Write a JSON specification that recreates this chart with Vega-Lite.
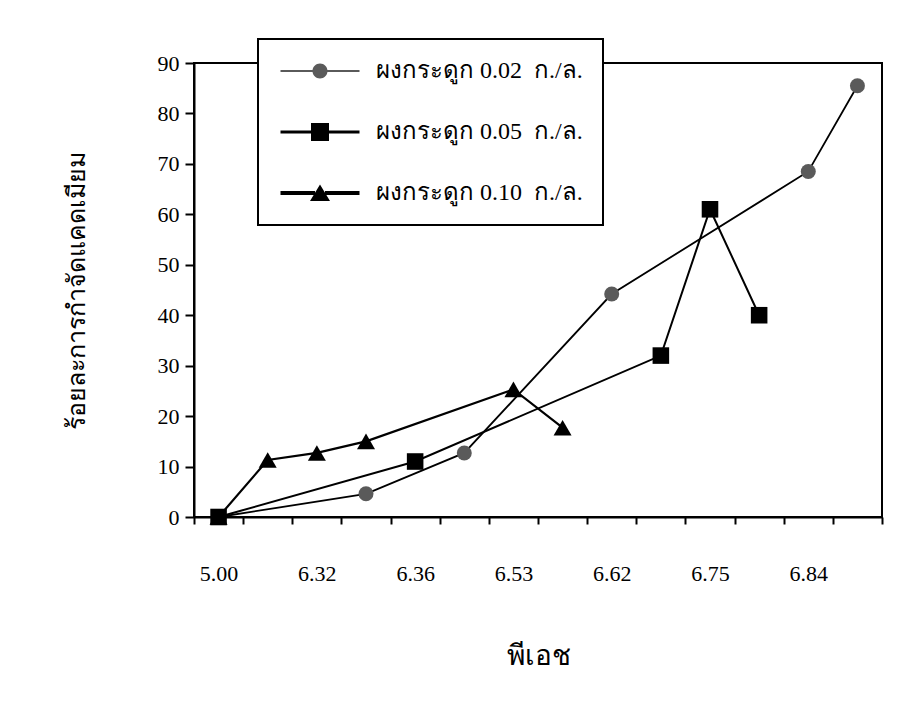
{
  "$schema": "https://vega.github.io/schema/vega-lite/v6.json",
  "width": 688,
  "height": 454,
  "autosize": {"type": "none"},
  "padding": {"left": 194, "top": 63, "right": 32, "bottom": 185},
  "background": "white",
  "config": {
    "view": {"stroke": "black", "strokeWidth": 2},
    "font": "Liberation Serif",
    "legend": {"strokeWidth": 2}
  },
  "data": {
    "values": [
      {"series": "ผงกระดูก 0.02\u00a0 ก./ล.", "step": 1, "removal": 0},
      {"series": "ผงกระดูก 0.02\u00a0 ก./ล.", "step": 4, "removal": 4.6},
      {"series": "ผงกระดูก 0.02\u00a0 ก./ล.", "step": 6, "removal": 12.7},
      {"series": "ผงกระดูก 0.02\u00a0 ก./ล.", "step": 9, "removal": 44.2},
      {"series": "ผงกระดูก 0.02\u00a0 ก./ล.", "step": 13, "removal": 68.5},
      {"series": "ผงกระดูก 0.02\u00a0 ก./ล.", "step": 14, "removal": 85.5},
      {"series": "ผงกระดูก 0.05\u00a0 ก./ล.", "step": 1, "removal": 0},
      {"series": "ผงกระดูก 0.05\u00a0 ก./ล.", "step": 5, "removal": 11},
      {"series": "ผงกระดูก 0.05\u00a0 ก./ล.", "step": 10, "removal": 32},
      {"series": "ผงกระดูก 0.05\u00a0 ก./ล.", "step": 11, "removal": 61},
      {"series": "ผงกระดูก 0.05\u00a0 ก./ล.", "step": 12, "removal": 40},
      {"series": "ผงกระดูก 0.10\u00a0 ก./ล.", "step": 1, "removal": 0},
      {"series": "ผงกระดูก 0.10\u00a0 ก./ล.", "step": 2, "removal": 11.3},
      {"series": "ผงกระดูก 0.10\u00a0 ก./ล.", "step": 3, "removal": 12.7},
      {"series": "ผงกระดูก 0.10\u00a0 ก./ล.", "step": 4, "removal": 15},
      {"series": "ผงกระดูก 0.10\u00a0 ก./ล.", "step": 7, "removal": 25.3},
      {"series": "ผงกระดูก 0.10\u00a0 ก./ล.", "step": 8, "removal": 17.7}
    ]
  },
  "layer": [
    {
      "mark": {"type": "line", "color": "black"},
      "encoding": {
        "x": {
          "field": "step",
          "type": "quantitative",
          "scale": {"domain": [0.5, 14.5], "nice": false, "zero": false},
          "axis": {
            "orient": "bottom",
            "values": [0.5, 1.5, 2.5, 3.5, 4.5, 5.5, 6.5, 7.5, 8.5, 9.5, 10.5, 11.5, 12.5, 13.5, 14.5],
            "labels": false,
            "grid": false,
            "title": null,
            "domainColor": "black",
            "domainWidth": 2,
            "tickColor": "black",
            "tickWidth": 2,
            "tickSize": 7
          }
        },
        "y": {
          "field": "removal",
          "type": "quantitative",
          "scale": {"domain": [0, 90], "nice": false},
          "axis": {
            "values": [0, 10, 20, 30, 40, 50, 60, 70, 80, 90],
            "grid": false,
            "domainColor": "black",
            "domainWidth": 2,
            "tickColor": "black",
            "tickWidth": 2,
            "tickSize": 9,
            "labelFont": "Liberation Serif",
            "labelFontSize": 22,
            "labelColor": "black",
            "labelPadding": 6,
            "title": "ร้อยละการกำจัดแคดเมียม",
            "titleFont": "Liberation Serif",
            "titleFontSize": 25,
            "titleFontWeight": "normal",
            "titleColor": "black",
            "titleX": -118,
            "titleY": 227,
            "titleAngle": -90,
            "titleAlign": "center",
            "titleBaseline": "middle"
          }
        },
        "strokeWidth": {
          "field": "series",
          "type": "ordinal",
          "scale": {
            "domain": ["ผงกระดูก 0.02\u00a0 ก./ล.", "ผงกระดูก 0.05\u00a0 ก./ล.", "ผงกระดูก 0.10\u00a0 ก./ล."],
            "range": [1.8, 2.2, 3.2]
          },
          "legend": null
        }
      }
    },
    {
      "mark": {"type": "point", "filled": true, "opacity": 1},
      "encoding": {
        "x": {
          "field": "step",
          "type": "quantitative",
          "axis": {
            "orient": "bottom",
            "values": [1, 3, 5, 7, 9, 11, 13],
            "ticks": false,
            "domain": false,
            "grid": false,
            "labelExpr": "datum.value == 1 ? '5.00' : datum.value == 3 ? '6.32' : datum.value == 5 ? '6.36' : datum.value == 7 ? '6.53' : datum.value == 9 ? '6.62' : datum.value == 11 ? '6.75' : datum.value == 13 ? '6.84' : ''",
            "labelFont": "Liberation Serif",
            "labelFontSize": 22,
            "labelColor": "black",
            "labelPadding": 46,
            "title": "พีเอช",
            "titleFont": "Liberation Serif",
            "titleFontSize": 28,
            "titleFontWeight": "normal",
            "titleColor": "black",
            "titleY": 139,
            "titleBaseline": "middle"
          }
        },
        "y": {"field": "removal", "type": "quantitative"},
        "shape": {
          "field": "series",
          "type": "nominal",
          "scale": {
            "domain": ["ผงกระดูก 0.02\u00a0 ก./ล.", "ผงกระดูก 0.05\u00a0 ก./ล.", "ผงกระดูก 0.10\u00a0 ก./ล."],
            "range": ["circle", "square", "triangle-up"]
          },
          "legend": null
        },
        "color": {
          "field": "series",
          "type": "nominal",
          "scale": {
            "domain": ["ผงกระดูก 0.02\u00a0 ก./ล.", "ผงกระดูก 0.05\u00a0 ก./ล.", "ผงกระดูก 0.10\u00a0 ก./ล."],
            "range": ["#5a5a5a", "#000000", "#000000"]
          },
          "legend": null
        },
        "size": {
          "field": "series",
          "type": "ordinal",
          "scale": {
            "domain": ["ผงกระดูก 0.02\u00a0 ก./ล.", "ผงกระดูก 0.05\u00a0 ก./ล.", "ผงกระดูก 0.10\u00a0 ก./ล."],
            "range": [225, 324, 400]
          },
          "legend": null
        }
      }
    },
    {
      "mark": {"type": "point", "filled": true, "opacity": 0, "size": 400},
      "encoding": {
        "x": {"field": "step", "type": "quantitative", "axis": null},
        "y": {"field": "removal", "type": "quantitative"},
        "shape": {
          "field": "series",
          "type": "nominal",
          "scale": {
            "range": [
              "M-3.95,-0.09H-0.7V0.09H-3.95Z M0.7,-0.09H3.95V0.09H0.7Z M-0.75,0A0.75,0.75,0,1,1,0.75,0A0.75,0.75,0,1,1,-0.75,0Z",
              "M-3.95,-0.14H-0.9V0.14H-3.95Z M0.9,-0.14H3.95V0.14H0.9Z M-0.9,-0.9H0.9V0.9H-0.9Z",
              "M-3.95,-0.19H-0.5V0.19H-3.95Z M0.5,-0.19H3.95V0.19H0.5Z M0,-0.85L1,0.8H-1Z"
            ]
          },
          "legend": {
            "orient": "none",
            "legendX": 64,
            "legendY": -24,
            "title": null,
            "padding": 20,
            "rowPadding": 37,
            "strokeColor": "black",
            "fillColor": "white",
            "symbolSize": 400,
            "symbolStrokeWidth": 0,
            "symbolOpacity": 1,
            "symbolOffset": 30,
            "labelOffset": 44,
            "labelFont": "Liberation Serif",
            "labelFontSize": 24,
            "labelColor": "black",
            "labelLimit": 400
          }
        },
        "color": {
          "field": "series",
          "type": "nominal",
          "scale": {"range": ["#5a5a5a", "#000000", "#000000"]},
          "legend": {
            "orient": "none",
            "legendX": 64,
            "legendY": -24,
            "title": null,
            "padding": 20,
            "rowPadding": 37,
            "strokeColor": "black",
            "fillColor": "white",
            "symbolSize": 400,
            "symbolStrokeWidth": 0,
            "symbolOpacity": 1,
            "symbolOffset": 30,
            "labelOffset": 44,
            "labelFont": "Liberation Serif",
            "labelFontSize": 24,
            "labelColor": "black",
            "labelLimit": 400
          }
        }
      }
    }
  ],
  "resolve": {
    "scale": {"shape": "independent", "color": "independent", "size": "independent", "strokeWidth": "independent"},
    "axis": {"x": "independent"}
  }
}
